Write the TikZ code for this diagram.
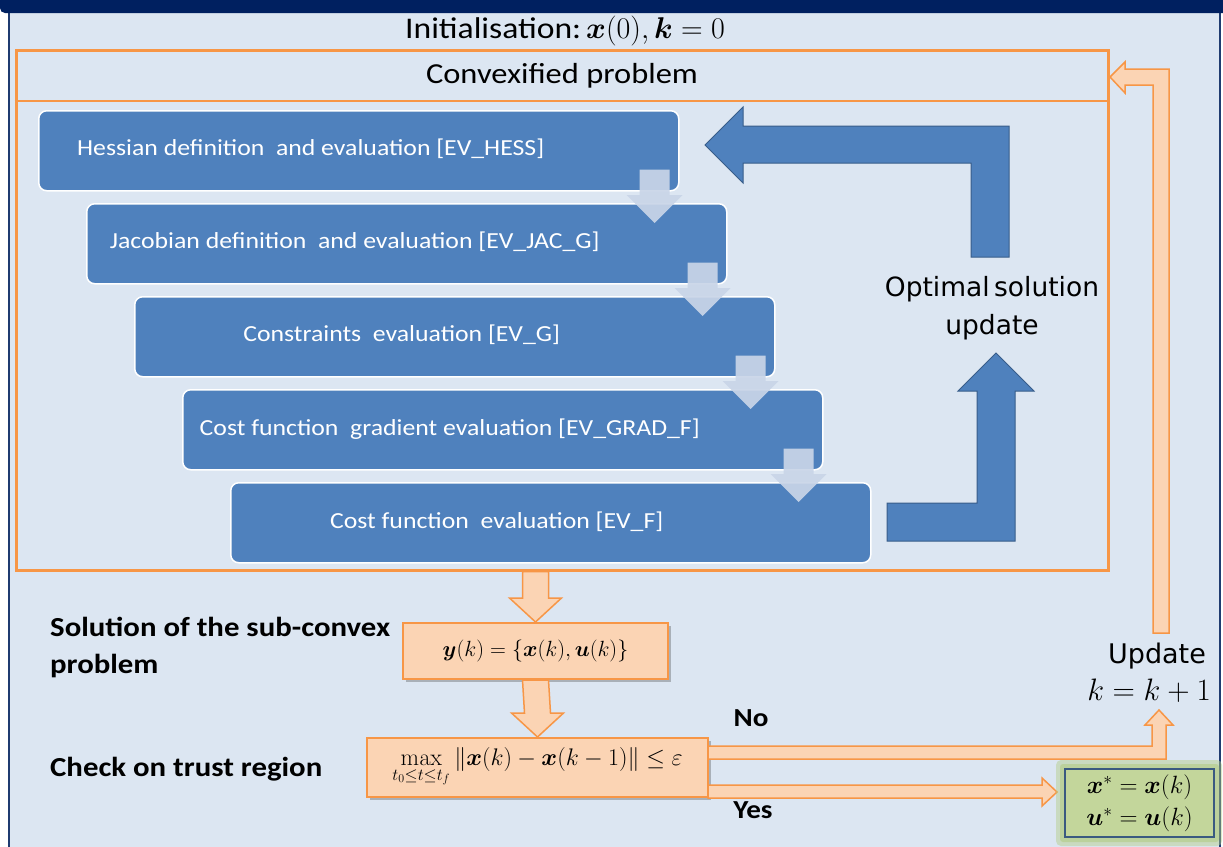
\RequirePackage{fix-cm}
\documentclass[tikz,border=0pt]{standalone}
\usepackage{amsmath,bm}
\usepackage[no-math]{fontspec}
\setmainfont[FakeStretch=1.12]{Carlito}
\newfontfamily\widesans{DejaVu Sans}
\usetikzlibrary{calc,shadows}

\definecolor{navy}{HTML}{002060}
\definecolor{panel}{HTML}{DCE6F2}
\definecolor{frame}{HTML}{1F3B70}
\definecolor{orng}{HTML}{F79646}
\definecolor{lorng}{HTML}{FBD4B4}
\definecolor{stepblue}{HTML}{4F81BD}
\definecolor{stepedge}{HTML}{385D8A}
\definecolor{flowgrey}{HTML}{C9D5E8}
\definecolor{resgreen}{HTML}{C3D69B}
\definecolor{resglow}{HTML}{B3CC85}
\definecolor{resedge}{HTML}{3A5A80}

\tikzset{
  stepbox/.style={rectangle, rounded corners=8pt, fill=stepblue, draw=white,
    line width=1.5pt, minimum width=640pt, minimum height=80pt,
    anchor=north west, inner sep=0pt},
  steptext/.style={text=white, font=\fontsize{23}{27}\selectfont, inner sep=0pt},
  smallflow/.style={fill=flowgrey, opacity=0.92},
  orangeblock/.style={fill=lorng, draw=orng, line width=1.5pt, line join=miter},
  bluebend/.style={fill=stepblue, draw=stepedge, line width=1pt},
  orangebox/.style={rectangle, fill=lorng, draw=orng, line width=2pt, inner sep=0pt,
    drop shadow={shadow xshift=3pt, shadow yshift=-3pt, opacity=0.35, fill=black!70}},
  sidelabel/.style={font=\bfseries\fontsize{27.5}{37}\selectfont, align=left,
    anchor=west, inner sep=0pt},
  plainlabel/.style={font=\fontsize{29}{34}\selectfont, inner sep=0pt},
}

% grey step arrow from the lower right corner of one box into the next one
\newcommand\stepflow[2]{%
  \fill[smallflow] ($(#1.south east)+(-40,-22)$) -- ($(#1.south east)+(-10,-22)$)
    -- ($(#1.south east |- #2.north)+(-10,-8)$) -- ($(#1.south east |- #2.north)+(3,-8)$)
    -- ($(#1.south east |- #2.north)+(-25,20)$) -- ($(#1.south east |- #2.north)+(-53,-8)$)
    -- ($(#1.south east |- #2.north)+(-40,-8)$) -- cycle;}

% orange block arrow pointing down, from point #1 to tip #2
\newcommand\downblock[2]{%
  \filldraw[orangeblock] ($(#1)+(-13,0)$) -- ($(#2)+(-13,-24)$) -- ($(#2)+(-26,-24)$)
    -- (#2) -- ($(#2)+(26,-24)$) -- ($(#2)+(13,-24)$) -- ($(#1)+(13,0)$) -- cycle;}

\begin{document}
\begin{tikzpicture}[x=1pt,y=-1pt]
\useasboundingbox (0,0) rectangle (1223,846);
\fill[white] (0,0) rectangle (1223,846);

% slide panel and title bar
\fill[panel] (9,10) rectangle (1220,860);
\draw[frame, line width=2pt] (9,10) -- (9,850) (1220,10) -- (1220,850);
\fill[navy, rounded corners=5pt] (0,-20) rectangle (1240,13);

\node[plainlabel, font=\fontsize{30}{34}\selectfont] (init) at (565,31)
  {Initialisation:\,$\bm{x}(0),\bm{k}=0$};

% convexified problem frame
\node[draw=orng, line width=3pt, minimum width=1092pt, minimum height=520pt,
  inner sep=0pt] (convex) at (562,310) {};
\coordinate (hline) at (0,101);
\draw[orng, line width=2.5pt] (convex.west |- hline) -- (convex.east |- hline);
\node[plainlabel] (convtitle) at (562,76) {Convexified problem};

% evaluation steps
\node[stepbox] (hess) at (38,110) {};
\node[stepbox] (jac)  at (86,203) {};
\node[stepbox] (cons) at (134,296) {};
\node[stepbox] (grad) at (182,389) {};
\node[stepbox] (cost) at (230,482) {};

\node[steptext] (hesstxt) at ($(hess.center)+(-48,-2)$) {Hessian definition\ \ and evaluation [EV\_HESS]};
\node[steptext] (jactxt)  at ($(jac.center)+(-52,-2)$)  {Jacobian definition\ \ and evaluation [EV\_JAC\_G]};
\node[steptext] (constxt) at ($(cons.center)+(-53,-2)$) {Constraints\ \ evaluation [EV\_G]};
\node[steptext] (gradtxt) at ($(grad.center)+(-53,-1)$) {Cost function\ \ gradient evaluation [EV\_GRAD\_F]};
\node[steptext] (costtxt) at ($(cost.center)+(-54,-1)$) {Cost function\ \ evaluation [EV\_F]};

\stepflow{hess}{jac}
\stepflow{jac}{cons}
\stepflow{cons}{grad}
\stepflow{grad}{cost}

% optimal solution update loop
\node[font=\widesans\fontsize{26.5}{38}\selectfont, align=center, inner sep=0pt]
  (optlabel) at (992,308) {Optimal\,solution\\update};
\filldraw[bluebend] (887,503) -- (977,503) -- (977,391) -- (958,391) -- (996,353)
  -- (1034,391) -- (1015,391) -- (1015,541) -- (887,541) -- cycle;
\filldraw[bluebend] (971,257) -- (1009,257) -- (1009,126) -- (743,126) -- (743,107)
  -- (705,145) -- (743,183) -- (743,163) -- (971,163) -- cycle;

% sub-problem solution and trust region check
\node[orangebox, minimum width=265pt, minimum height=56pt] (ybox) at (535.5,651)
  {\fontsize{22}{26}\selectfont $\bm{y}(k)=\{\bm{x}(k),\bm{u}(k)\}$};
\node[orangebox, minimum width=341pt, minimum height=59pt] (check) at (537.5,767.5)
  {\fontsize{24}{28}\selectfont $\max\limits_{t_0\le t\le t_f}\|\bm{x}(k)-\bm{x}(k-1)\|\le\varepsilon$};

\downblock{convex.south -| ybox.north}{ybox.north}
\downblock{ybox.south}{check.north}

\node[sidelabel] (sollabel) at (50,647) {Solution of the sub-convex\\problem};
\node[sidelabel] (checklabel) at (50,769) {Check on trust region};

% branches of the check
\filldraw[orangeblock] (708,746) -- (1152,746) -- (1152,725) -- (1145,725) -- (1159,710)
  -- (1173,725) -- (1166,725) -- (1166,759) -- (708,759) -- cycle;
\filldraw[orangeblock] (708,785) -- (1042,785) -- (1042,778) -- (1057,792) -- (1042,806)
  -- (1042,798) -- (708,798) -- cycle;
\node[font=\bfseries\fontsize{26}{30}\selectfont, inner sep=0pt] (nolabel) at (751,718) {No};
\node[font=\bfseries\fontsize{26}{30}\selectfont, inner sep=0pt] (yeslabel) at (753,810) {Yes};

% iteration update and feedback
\node[font=\widesans\fontsize{27}{30}\selectfont, inner sep=0pt] (updlabel) at (1157,656) {Update};
\node[font=\fontsize{31}{34}\selectfont, inner sep=0pt] (kupd) at (1149,691) {$k=k+1$};
\filldraw[orangeblock] (1153,633) -- (1153,85) -- (1125,85) -- (1125,93) -- (1110,77)
  -- (1125,62) -- (1125,69) -- (1169,69) -- (1169,633) -- cycle;

% optimal result
\fill[resglow, opacity=0.45, rounded corners=5pt] (1056,760) rectangle (1222,846);
\fill[resglow, opacity=0.6, rounded corners=3pt] (1060,764) rectangle (1219,842);
\node[rectangle, fill=resgreen, draw=resedge, line width=2pt, minimum width=149pt,
  minimum height=68pt, inner sep=0pt, align=center,
  font=\fontsize{25}{32}\selectfont] (result) at (1139.5,803)
  {$\bm{x}^{*}=\bm{x}(k)$\\$\bm{u}^{*}=\bm{u}(k)$};
\end{tikzpicture}
\end{document}
